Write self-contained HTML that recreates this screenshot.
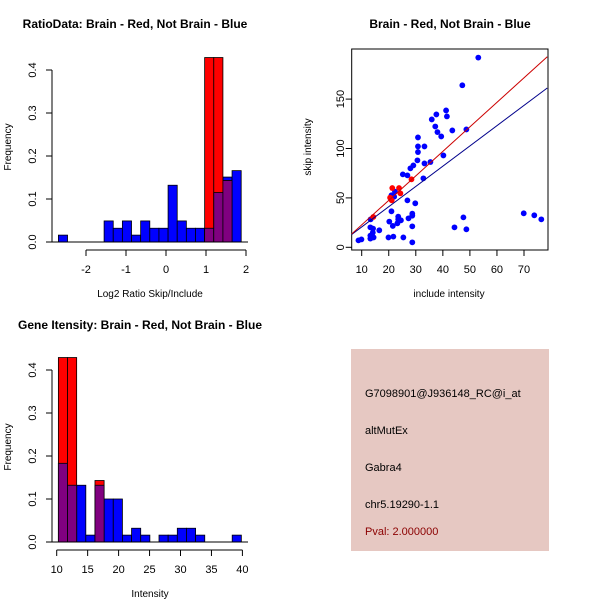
<!DOCTYPE html>
<html><head><meta charset="utf-8"><style>
body{margin:0;background:#fff;}
svg{display:block;font-family:"Liberation Sans",sans-serif;}
</style></head><body>
<svg id="c" width="600" height="600"></svg>
<script>
// Panel 1: Log2 ratio histogram
const ratioStart = -2.69, ratioBinW = 0.2285;
const ratioBlue = [0.016,0,0,0,0,0.049,0.032,0.049,0.016,0.049,0.032,0.032,0.132,0.049,0.032,0.032,0.032,0.115,0.151,0.166];
const ratioRed  = [0,0,0,0,0,0,0,0,0,0,0,0,0,0,0,0,0.429,0.429,0.143,0];
const ratioXTicks = [-2,-1,0,1,2];
const freqTicks = ["0.0","0.1","0.2","0.3","0.4"];
// Panel 2: scatter
const blueX = [53.1,47.2,41.2,41.5,37.6,35.9,37.2,38,39.4,43.5,48.7,30.8,30.8,33.2,30.8,30.6,33.2,35.4,40.2,29.1,28,25.2,26.9,32.8,21,22.3,22,21,26.9,29.8,20.2,21.5,23.5,23.5,24.5,23.2,27.3,28.7,28.7,28.7,28.7,25.4,21.7,19.9,13.3,13.2,14.2,16.5,13.2,14.1,13.2,14.4,8.8,9.9,44.3,47.6,48.7,69.9,73.8,76.4];
const blueY = [192,164,138.5,132.5,134.5,129.4,122.3,116.6,112.2,118.3,119.3,111.2,102.1,102.1,96.4,88,84.9,86.3,93,82.9,79.9,73.8,72.8,69.8,52.6,56.3,51.2,36.4,47.5,44.5,26,21.6,31,28.3,27.3,24.3,29.3,34,32,21.2,5,10,10.8,10,28.3,20.2,18.9,17.2,11.8,14.8,8.8,10,7,8,20.2,30.3,18.2,34.4,32.4,28.3];
const redX = [14.3,21.3,23.8,20.5,21.1,24.3,28.4];
const redY = [30.7,60,60,50.2,47.5,54.6,68.8];
const fitBlue = [2.05,0.1]; // slope, intercept
const fitRed = [2.48,-2.1];
const scatXTicks = [10,20,30,40,50,60,70];
const scatYTicks = [0,50,100,150];
// Panel 3: intensity histogram
const intStart = 10.27, intBinW = 1.478;
const intBlue = [0.183,0.132,0.132,0.016,0.132,0.1,0.1,0.016,0.032,0.016,0,0.016,0.016,0.032,0.032,0.016,0,0,0,0.016];
const intRed  = [0.429,0.429,0,0,0.143,0,0,0,0,0,0,0,0,0,0,0,0,0,0,0];
const intXTicks = [10,15,20,25,30,35,40];
// Info
const infoLines = ["G7098901@J936148_RC@i_at","altMutEx","Gabra4","chr5.19290-1.1"];
const pvalText = "Pval: 2.000000";

const NS="http://www.w3.org/2000/svg";
const svg=document.getElementById('c');
function mk(tag,attrs,parent,name,text){
  const e=document.createElementNS(NS,tag);
  for(const k in attrs)e.setAttribute(k,attrs[k]);
  
  
  if(text!==undefined)e.textContent=text;
  (parent||svg).appendChild(e);return e;
}
function txt(x,y,s,name,opt){
  opt=opt||{};
  const a={x:x,y:y,'font-size':opt.size||11,'text-anchor':opt.anchor||'middle',fill:opt.fill||'#000'};
  if(opt.bold)a['font-weight']='bold';
  if(opt.rot)a.transform='rotate(-90 '+x+' '+y+')';
  return mk('text',a,svg,name,s);
}
function hist(g,start,bw,blue,red,sx,sy,prefix){
  const y0=sy(0);
  for(let i=0;i<blue.length;i++){
    const x1=sx(start+i*bw),x2=sx(start+(i+1)*bw);
    if(blue[i]>0) mk('rect',{x:x1,y:sy(blue[i]),width:x2-x1,height:y0-sy(blue[i]),fill:'#0000ff',stroke:'#000','stroke-width':0.8},g,prefix+'-blue-bar-'+i);
  }
  for(let i=0;i<red.length;i++){
    const x1=sx(start+i*bw),x2=sx(start+(i+1)*bw);
    if(red[i]>0){
      mk('rect',{x:x1,y:sy(red[i]),width:x2-x1,height:y0-sy(red[i]),fill:'#ff0000',stroke:'#000','stroke-width':0.8},g,prefix+'-red-bar-'+i);
      const m=Math.min(red[i],blue[i]);
      if(m>0) mk('rect',{x:x1,y:sy(m),width:x2-x1,height:y0-sy(m),fill:'#800080',stroke:'#000','stroke-width':0.8},g,prefix+'-overlap-bar-'+i);
    }
  }
}
function yaxisFreq(ax,sy,prefix){
  mk('line',{x1:ax,y1:sy(0),x2:ax,y2:sy(0.4),stroke:'#000'},svg,prefix+'-y-axis');
  freqTicks.forEach((t,i)=>{const y=sy(i*0.1);
    mk('line',{x1:ax-6,y1:y,x2:ax,y2:y,stroke:'#000'},svg,prefix+'-y-tick');
    txt(ax-16,y,t,prefix+'-y-tick-label',{rot:true});});
}
// Panel 1
(function(){
  const sx=v=>86+(v+2)*40, sy=v=>242-v*430;
  const g=mk('g',{},svg,'ratio-histogram');
  hist(g,ratioStart,ratioBinW,ratioBlue,ratioRed,sx,sy,'ratio');
  mk('line',{x1:52,y1:242,x2:248,y2:242,stroke:'#000'},svg,'ratio-baseline');
  yaxisFreq(52,sy,'ratio');
  mk('line',{x1:sx(-2),y1:250,x2:sx(2),y2:250,stroke:'#000'},svg,'ratio-x-axis');
  ratioXTicks.forEach(t=>{mk('line',{x1:sx(t),y1:250,x2:sx(t),y2:256,stroke:'#000'},svg,'ratio-x-tick');
    txt(sx(t),273,String(t),'ratio-x-tick-label');});
  txt(135,28,'RatioData: Brain - Red, Not Brain - Blue','ratio-title',{bold:true,size:12});
  txt(150,297,'Log2 Ratio Skip/Include','ratio-x-axis-title',{size:10});
  txt(11,147,'Frequency','ratio-y-axis-title',{rot:true,size:10});
})();
// Panel 2
(function(){
  const sx=v=>361.7+(v-10)*2.705, sy=v=>247.3-v*0.988;
  mk('rect',{x:351.7,y:49,width:196.3,height:201,fill:'none',stroke:'#000'},svg,'scatter-plot-box');
  const g=mk('g',{},svg,'scatter-points');
  for(let i=0;i<blueX.length;i++) mk('circle',{cx:sx(blueX[i]),cy:sy(blueY[i]),r:2.9,fill:'#0000ff'},g,'not-brain-point');
  for(let i=0;i<redX.length;i++) mk('circle',{cx:sx(redX[i]),cy:sy(redY[i]),r:2.9,fill:'#ff0000'},g,'brain-point');
  const xa=6.3,xb=78.6;
  mk('line',{x1:sx(xa),y1:sy(fitBlue[0]*xa+fitBlue[1]),x2:sx(xb),y2:sy(fitBlue[0]*xb+fitBlue[1]),stroke:'#00008b'},svg,'not-brain-fit-line');
  mk('line',{x1:sx(xa),y1:sy(fitRed[0]*xa+fitRed[1]),x2:sx(xb),y2:sy(fitRed[0]*xb+fitRed[1]),stroke:'#cc0000'},svg,'brain-fit-line');
  scatXTicks.forEach(t=>{mk('line',{x1:sx(t),y1:250,x2:sx(t),y2:256,stroke:'#000'},svg,'scatter-x-tick');
    txt(sx(t),273,String(t),'scatter-x-tick-label');});
  scatYTicks.forEach(t=>{mk('line',{x1:345.7,y1:sy(t),x2:351.7,y2:sy(t),stroke:'#000'},svg,'scatter-y-tick');
    txt(344,sy(t),String(t),'scatter-y-tick-label',{rot:true});});
  txt(450,28,'Brain - Red, Not Brain - Blue','scatter-title',{bold:true,size:12});
  txt(449,297,'include intensity','scatter-x-axis-title',{size:10});
  txt(311,147,'skip intensity','scatter-y-axis-title',{rot:true,size:10});
})();
// Panel 3
(function(){
  const sx=v=>56.7+(v-10)*6.19, sy=v=>542-v*430;
  const g=mk('g',{},svg,'intensity-histogram');
  hist(g,intStart,intBinW,intBlue,intRed,sx,sy,'intensity');
  mk('line',{x1:52,y1:542,x2:248,y2:542,stroke:'#000'},svg,'intensity-baseline');
  yaxisFreq(52,sy,'intensity');
  mk('line',{x1:sx(10),y1:550,x2:sx(40),y2:550,stroke:'#000'},svg,'intensity-x-axis');
  intXTicks.forEach(t=>{mk('line',{x1:sx(t),y1:550,x2:sx(t),y2:556,stroke:'#000'},svg,'intensity-x-tick');
    txt(sx(t),573,String(t),'intensity-x-tick-label');});
  txt(140,329,'Gene Itensity: Brain - Red, Not Brain - Blue','intensity-title',{bold:true,size:12});
  txt(150,597,'Intensity','intensity-x-axis-title',{size:10});
  txt(11,447,'Frequency','intensity-y-axis-title',{rot:true,size:10});
})();
// Info panel
mk('rect',{x:351,y:349,width:198,height:202,fill:'#e6c8c2'},svg,'info-panel');
const ys=[397,434,471,508];
infoLines.forEach((s,i)=>txt(365,ys[i],s,'info-line-'+i,{anchor:'start',size:11}));
txt(365,535,pvalText,'pval-text',{anchor:'start',size:11,fill:'#8b0000'});
</script>
</body></html>
